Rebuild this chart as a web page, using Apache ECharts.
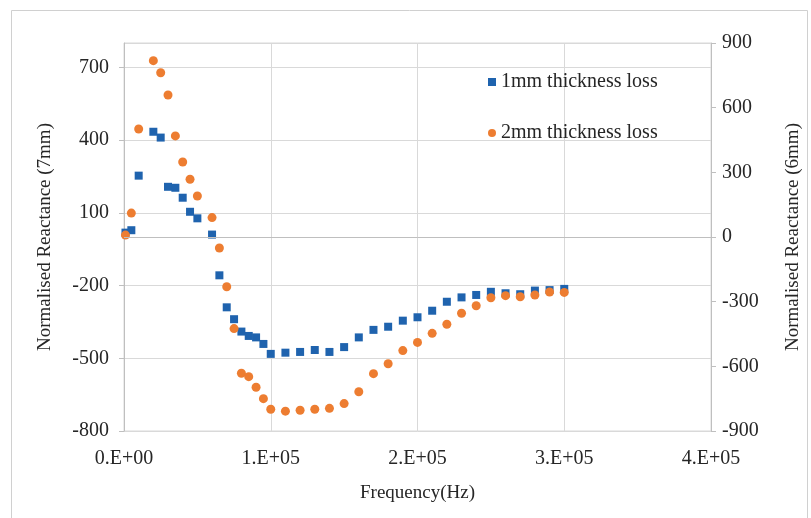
<!DOCTYPE html>
<html>
<head>
<meta charset="utf-8">
<script src="https://cdn.jsdelivr.net/npm/echarts@6/dist/echarts.min.js"></script>
<style>html,body{margin:0;padding:0;background:#fff}#chart{width:811px;height:518px}</style>
</head>
<body>
<div id="chart"></div>
<script>
// Frequencies (Hz) shared by both series
var frequencyHz = [1000, 5000, 10000, 20000, 25000, 30000, 35000, 40000, 45000, 50000,
  60000, 65000, 70000, 75000, 80000, 85000, 90000, 95000, 100000,
  110000, 120000, 130000, 140000, 150000, 160000, 170000, 180000, 190000, 200000,
  210000, 220000, 230000, 240000, 250000, 260000, 270000, 280000, 290000, 300000];
// 1mm thickness loss (left axis, 7mm)
var loss1mm = [18, 28, 253, 434, 410, 207, 203, 162, 104, 77,
  10, -158, -290, -339, -390, -408, -414, -441, -482,
  -477, -474, -466, -474, -454, -414, -383, -370, -345, -331,
  -304, -267, -249, -239, -226, -232, -236, -221, -219, -214];
// 2mm thickness loss (right axis, 6mm)
var loss2mm = [9, 111, 501, 818, 762, 659, 469, 348, 268, 190,
  90, -51, -231, -425, -632, -648, -697, -750, -799,
  -808, -804, -799, -795, -773, -718, -634, -588, -527, -489,
  -447, -405, -354, -319, -282, -272, -277, -269, -255, -257];
var xTickLabels = ['0.E+00', '1.E+05', '2.E+05', '3.E+05', '4.E+05'];
var seriesNames = ['1mm thickness loss', '2mm thickness loss'];

function pairs(xs, ys) { return xs.map(function (x, i) { return [x, ys[i]]; }); }

var FONT = 'Liberation Serif';
var TXT = '#262626';
var chart = echarts.init(document.getElementById('chart'), null, { renderer: 'canvas' });
chart.setOption({
  animation: false,
  backgroundColor: '#ffffff',
  graphic: [{
    type: 'rect', left: 9, top: 8, z: -10,
    shape: { width: 796, height: 530 },
    style: { fill: 'none', stroke: '#d0d0d0', lineWidth: 1 }
  }],
  grid: { left: 124, right: 100, top: 43, bottom: 87, show: true, borderColor: '#d9d9d9', borderWidth: 1 },
  legend: {
    orient: 'vertical', left: 483, top: 67, itemWidth: 8, itemHeight: 8, itemGap: 31,
    textStyle: { fontFamily: FONT, fontSize: 20, color: TXT, lineHeight: 20 },
    data: [{ name: seriesNames[0], icon: 'rect' }, { name: seriesNames[1], icon: 'circle' }]
  },
  xAxis: {
    type: 'value', min: 0, max: 400000, interval: 100000,
    name: 'Frequency(Hz)', nameLocation: 'middle', nameGap: 53,
    nameTextStyle: { fontFamily: FONT, fontSize: 19, color: TXT },
    axisLine: { show: false }, axisTick: { show: false },
    axisLabel: { margin: 18, fontFamily: FONT, fontSize: 20, color: TXT,
      formatter: function (v) { return xTickLabels[Math.round(v / 100000)]; } },
    splitLine: { show: true, lineStyle: { color: '#d9d9d9', width: 1 } }
  },
  yAxis: [{
    type: 'value', min: -800, max: 800, interval: 300, position: 'left',
    name: 'Normalised Reactance (7mm)', nameLocation: 'middle', nameGap: 69,
    nameTextStyle: { fontFamily: FONT, fontSize: 19, color: TXT },
    axisLine: { show: true, onZero: false, lineStyle: { color: '#bfbfbf' } },
    axisTick: { show: true, length: 5, lineStyle: { color: '#bfbfbf' } },
    axisLabel: { margin: 15, fontFamily: FONT, fontSize: 20, color: TXT, showMaxLabel: false },
    splitLine: { show: true, lineStyle: { color: '#d9d9d9', width: 1 } }
  }, {
    type: 'value', min: -900, max: 900, interval: 300, position: 'right',
    name: 'Normalised Reactance (6mm)', nameLocation: 'middle', nameGap: 73,
    nameTextStyle: { fontFamily: FONT, fontSize: 19, color: TXT },
    axisLine: { show: true, onZero: false, lineStyle: { color: '#bfbfbf' } },
    axisTick: { show: true, length: 5, lineStyle: { color: '#bfbfbf' } },
    axisLabel: { margin: 11, fontFamily: FONT, fontSize: 20, color: TXT },
    splitLine: { show: false }
  }],
  series: [{
    name: seriesNames[0], type: 'scatter', yAxisIndex: 0,
    symbol: 'rect', symbolSize: 8, itemStyle: { color: '#1f63ae', opacity: 1 },
    data: pairs(frequencyHz, loss1mm),
    markLine: { silent: true, symbol: 'none', label: { show: false },
      lineStyle: { color: '#bfbfbf', type: 'solid', width: 1 }, data: [{ yAxis: 0 }] }
  }, {
    name: seriesNames[1], type: 'scatter', yAxisIndex: 1,
    symbol: 'circle', symbolSize: 9, itemStyle: { color: '#ed7d31', opacity: 1 },
    data: pairs(frequencyHz, loss2mm)
  }]
});
</script>
</body>
</html>
